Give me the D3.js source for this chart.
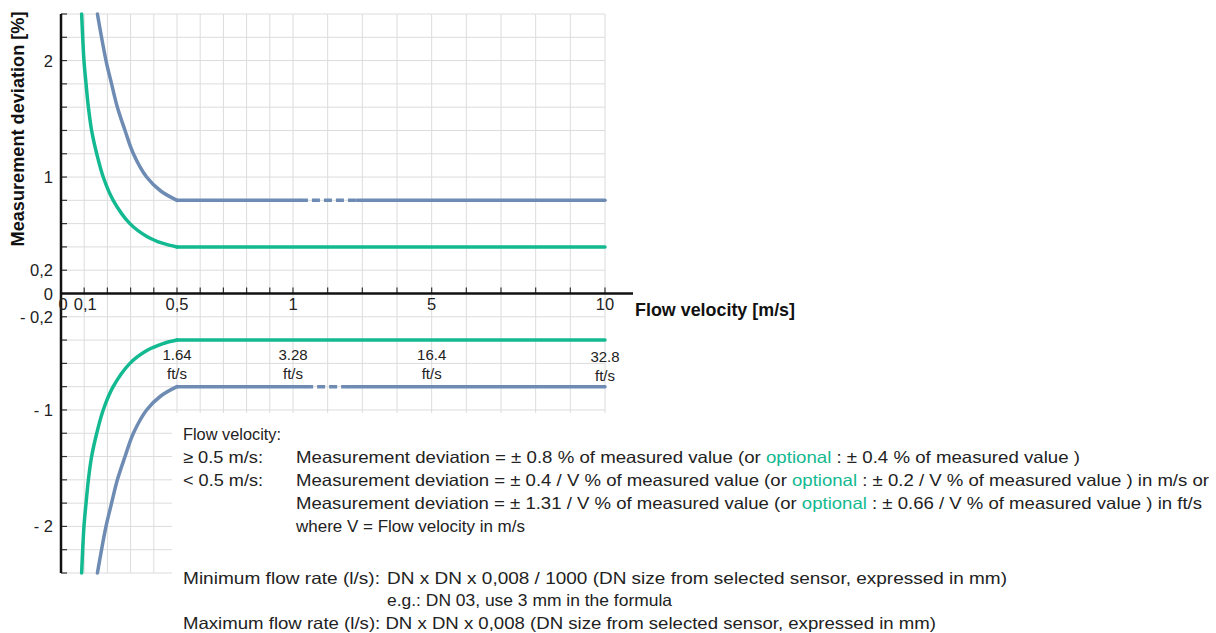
<!DOCTYPE html>
<html>
<head>
<meta charset="utf-8">
<script src="https://cdn.jsdelivr.net/npm/d3@7"></script>
<style>
  body { margin: 0; background: #fff; }
  svg { display: block; font-family: "Liberation Sans", Arial, Helvetica, sans-serif; }
</style>
</head>
<body>
<div id="content"></div>
<script>
// chart data
var gridX = [0.1, 0.2, 0.3, 0.4, 0.5, 0.6, 0.7, 0.8, 0.9, 1, 2, 3, 4, 5, 6, 7, 8, 9, 10];
var gridY = [-2.4, -2.2, -2, -1.8, -1.6, -1.4, -1.2, -1, -0.8, -0.6, -0.4, -0.2, 0.2, 0.4, 0.6, 0.8, 1, 1.2, 1.4, 1.6, 1.8, 2, 2.2, 2.4];
var xTickVals = [0, 0.1, 0.5, 1, 5, 10];
var xTickText = ["0", "0,1", "0,5", "1", "5", "10"];
var yTickVals = [2, 1, 0.2, 0, -0.2, -1, -2];
var yTickText = ["2", "1", "0,2", "0", "- 0,2", "- 1", "- 2"];
var ftVals = [0.5, 1, 5, 10];
var ftText = ["1.64", "3.28", "16.4", "32.8"];

// standard accuracy (blue), flat at 0.8 % from 0.5 m/s
var stdV   = [0.157, 0.194, 0.218, 0.243, 0.276, 0.312, 0.369, 0.43, 0.5];
var stdDev = [2.4, 2.0, 1.8, 1.6, 1.4, 1.2, 1.0, 0.88, 0.8];
var stdFlat = 0.8;
// optional accuracy (green), flat at 0.4 % from 0.5 m/s
var optV   = [0.089, 0.099, 0.108, 0.118, 0.132, 0.154, 0.182, 0.225, 0.297, 0.37, 0.44, 0.5];
var optDev = [2.4, 2.0, 1.8, 1.6, 1.4, 1.2, 1.0, 0.8, 0.6, 0.49, 0.43, 0.4];
var optFlat = 0.4;
var flatEnd = 10;
// dashed break on the blue line (m/s)
var breakUpper = [1.2, 2.85];
var breakLower = [1.35, 2.6];

var blue = "#6e8cb3", green = "#13b990";

var W = 1216, H = 633;
var svg = d3.select("#content").append("svg").attr("width", W).attr("height", H);

var x = d3.scaleLinear().domain([0, 1, 10]).range([61, 293, 605]);
var y = d3.scaleLinear().domain([-2.4, 2.4]).range([573, 14]);

// grid
svg.append("g").selectAll("line").data(gridX).join("line")
  .attr("x1", d => x(d)).attr("x2", d => x(d))
  .attr("y1", y(2.4)).attr("y2", y(-2.4))
  .attr("stroke", "#dcdcdc").attr("stroke-width", 1);
svg.append("g").selectAll("line").data(gridY).join("line")
  .attr("x1", x(0)).attr("x2", x(10))
  .attr("y1", d => y(d)).attr("y2", d => y(d))
  .attr("stroke", "#dcdcdc").attr("stroke-width", 1);

// white box behind the notes
svg.append("rect").attr("x", 172).attr("y", 413).attr("width", W - 172).attr("height", H - 413).attr("fill", "#fff");

// curves
var line = d3.line().x(d => x(d[0])).y(d => y(d[1])).curve(d3.curveCatmullRom.alpha(0.5));
var flat = d3.line().x(d => x(d[0])).y(d => y(d[1]));

function drawSeries(vs, devs, lvl, sign, color, brk) {
  var pts = vs.map((v, i) => [v, sign * devs[i]]);
  svg.append("path").attr("d", line(pts))
    .attr("fill", "none").attr("stroke", color).attr("stroke-width", 3.5).attr("stroke-linecap", "round");
  var segs = brk ? [[0.5, brk[0], null], [brk[0], brk[1], "8,4"], [brk[1], flatEnd, null]] : [[0.5, flatEnd, null]];
  segs.forEach(function (s) {
    svg.append("path").attr("d", flat([[s[0], sign * lvl], [s[1], sign * lvl]]))
      .attr("fill", "none").attr("stroke", color).attr("stroke-width", 3.5)
      .attr("stroke-dasharray", s[2]).attr("stroke-linecap", s[2] ? "butt" : "round");
  });
}
drawSeries(stdV, stdDev, stdFlat, 1, blue, breakUpper);
drawSeries(optV, optDev, optFlat, 1, green, null);
drawSeries(optV, optDev, optFlat, -1, green, null);
drawSeries(stdV, stdDev, stdFlat, -1, blue, breakLower);

// axes
svg.append("g").selectAll("line").data(gridX).join("line")
  .attr("x1", d => x(d)).attr("x2", d => x(d))
  .attr("y1", y(0)).attr("y2", y(0) - 6)
  .attr("stroke", "#333").attr("stroke-width", 1.2);
svg.append("g").selectAll("line").data(gridY).join("line")
  .attr("x1", x(0)).attr("x2", x(0) + 6)
  .attr("y1", d => y(d)).attr("y2", d => y(d))
  .attr("stroke", "#333").attr("stroke-width", 1.2);
svg.append("line").attr("x1", x(0)).attr("x2", x(0)).attr("y1", y(2.4)).attr("y2", y(-2.4))
  .attr("stroke", "#111").attr("stroke-width", 2.5);
svg.append("line").attr("x1", x(0) - 1).attr("x2", 633).attr("y1", y(0)).attr("y2", y(0))
  .attr("stroke", "#111").attr("stroke-width", 2.5);

// tick labels
svg.append("g").selectAll("text").data(xTickVals).join("text")
  .attr("x", (d, i) => x(d) + (i == 0 ? 2 : i == 1 ? 1 : 0)).attr("y", 310)
  .attr("text-anchor", "middle").attr("font-size", 16.5).attr("fill", "#222")
  .text((d, i) => xTickText[i]);
svg.append("g").selectAll("text").data(yTickVals).join("text")
  .attr("x", 53).attr("y", d => y(d) + 6)
  .attr("text-anchor", "end").attr("font-size", 16.5).attr("fill", "#222")
  .text((d, i) => yTickText[i]);

// ft/s labels
var ft = svg.append("g").selectAll("g").data(ftVals).join("g")
  .attr("transform", (d, i) => "translate(" + x(d) + "," + (i == 3 ? 362 : 360) + ")");
ft.append("text").attr("text-anchor", "middle").attr("font-size", 15).attr("fill", "#222").text((d, i) => ftText[i]);
ft.append("text").attr("y", 19).attr("text-anchor", "middle").attr("font-size", 15).attr("fill", "#222").text("ft/s");

// axis titles
svg.append("text").attr("transform", "translate(24,129) rotate(-90)")
  .attr("text-anchor", "middle").attr("font-size", 17.5).attr("font-weight", "bold").attr("fill", "#111")
  .attr("textLength", 235).attr("lengthAdjust", "spacingAndGlyphs")
  .text("Measurement deviation [%]");
svg.append("text").attr("x", 635).attr("y", 316)
  .attr("font-size", 17.5).attr("font-weight", "bold").attr("fill", "#111")
  .attr("textLength", 160).attr("lengthAdjust", "spacingAndGlyphs")
  .text("Flow velocity [m/s]");

// notes
var notes = svg.append("g").attr("font-size", 16.5).attr("fill", "#222");
function note(xp, yp, len, parts) {
  var t = notes.append("text").attr("x", xp).attr("y", yp)
    .attr("textLength", len).attr("lengthAdjust", "spacingAndGlyphs");
  parts.forEach(function (p) {
    t.append("tspan").attr("fill", p[1] ? green : null).text(p[0]);
  });
}
note(183, 440, 98, [["Flow velocity:"]]);
note(183, 463, 80, [["\u2265 0.5 m/s:"]]);
note(296, 463, 784, [["Measurement deviation = \u00b1 0.8 % of measured value (or "], ["optional", 1], [" : \u00b1 0.4 % of measured value )"]]);
note(183, 486, 80, [["< 0.5 m/s:"]]);
note(296, 486, 913, [["Measurement deviation = \u00b1 0.4 / V % of measured value (or "], ["optional", 1], [" : \u00b1 0.2 / V % of measured value ) in m/s or"]]);
note(296, 509, 906, [["Measurement deviation = \u00b1 1.31 / V % of measured value (or "], ["optional", 1], [" : \u00b1 0.66 / V % of measured value ) in ft/s"]]);
note(296, 532, 229, [["where V = Flow velocity in m/s"]]);
note(183, 584, 197, [["Minimum flow rate (l/s):"]]);
note(387, 584, 620, [["DN x DN x 0,008 / 1000 (DN size from selected sensor, expressed in mm)"]]);
note(387, 606, 285, [["e.g.: DN 03, use 3 mm in the formula"]]);
note(183, 629, 753, [["Maximum flow rate (l/s): DN x DN x 0,008 (DN size from selected sensor, expressed in mm)"]]);
</script>
</body>
</html>
